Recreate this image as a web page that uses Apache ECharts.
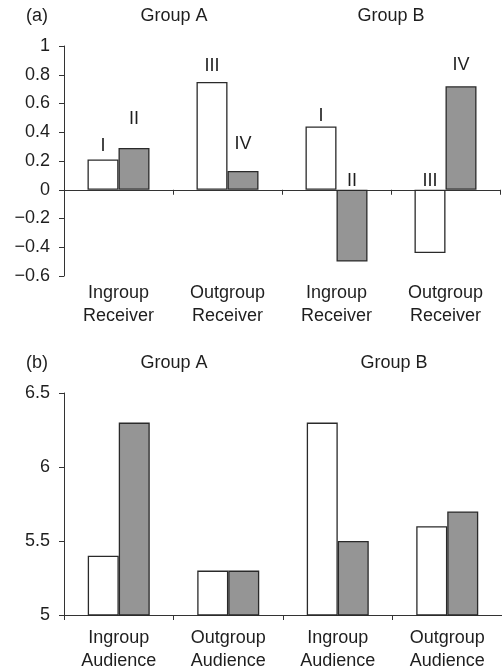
<!DOCTYPE html>
<html>
<head>
<meta charset="utf-8">
<script src="https://cdn.jsdelivr.net/npm/echarts@6/dist/echarts.min.js"></script>
<style>html,body{margin:0;padding:0;background:#fff}#c{width:502px;height:670px}</style>
</head>
<body>
<div id="c"></div>
<script>
// Panel (a)
const catsA = ['Ingroup\nReceiver', 'Outgroup\nReceiver', 'Ingroup\nReceiver', 'Outgroup\nReceiver'];
const whiteA = [0.21, 0.75, 0.44, -0.44];
const grayA = [0.29, 0.13, -0.5, 0.72];
const whiteLabelsA = ['I', 'III', 'I', 'III'];
const grayLabelsA = ['II', 'IV', 'II', 'IV'];
// Panel (b)
const catsB = ['Ingroup\nAudience', 'Outgroup\nAudience', 'Ingroup\nAudience', 'Outgroup\nAudience'];
const whiteB = [5.4, 5.3, 6.3, 5.6];
const grayB = [6.3, 5.3, 5.5, 5.7];
const groupTitles = ['Group A', 'Group B'];
const panelTags = ['(a)', '(b)'];

// label distances (style only)
const whiteDist = [5, 7, 1, 0];
const grayDist = [20, 18, 0, 12];

const FONT = '"Liberation Sans", Arial, sans-serif';
const FS = 18;
const TXT = '#1e1e1e';
const AX = '#333';

function fmtA(v) {
  const r = Math.round(v * 10) / 10;
  if (r === 0) return '0';
  return (r < 0 ? '\u2212' : '') + String(Math.abs(r));
}

function labeled(values, names, dist) {
  return values.map((v, i) => ({
    value: v,
    label: { show: true, position: 'top', distance: dist[i], formatter: names[i] }
  }));
}

const chart = echarts.init(document.getElementById('c'), null, { renderer: 'canvas' });

const axisLabelStyle = { color: TXT, fontSize: FS, fontFamily: FONT };
const barStyle = (c) => ({ color: c, borderColor: '#2a2a2a', borderWidth: 1.3 });
const tStyle = { fontSize: FS, fontWeight: 'normal', color: TXT, fontFamily: FONT, lineHeight: 20 };
function title(text, left, top, align) {
  return { text, left, top, padding: 0, textAlign: align || 'left', textStyle: tStyle };
}

chart.setOption({
  animation: false,
  backgroundColor: '#fff',
  textStyle: { fontFamily: FONT },
  title: [
    title(panelTags[0], 26, 6),
    title(groupTitles[0], 174, 6, 'center'),
    title(groupTitles[1], 391, 6, 'center'),
    title(panelTags[1], 26, 353),
    title(groupTitles[0], 174, 353, 'center'),
    title(groupTitles[1], 394, 353, 'center')
  ],
  grid: [
    { left: 64, right: 2, top: 46, height: 230, outerBoundsMode: 'none', containLabel: false },
    { left: 64, right: 0, top: 393, height: 222, outerBoundsMode: 'none', containLabel: false }
  ],
  xAxis: [
    {
      type: 'category', gridIndex: 0, data: catsA, position: 'bottom',
      axisLine: { show: false, onZero: false }, axisTick: { show: false },
      axisLabel: Object.assign({ margin: 6, lineHeight: 23 }, axisLabelStyle)
    },
    {
      type: 'category', gridIndex: 0, data: catsA, position: 'bottom',
      axisLine: { show: true, onZero: true, lineStyle: { color: AX, width: 1 } },
      axisTick: { show: true, length: 5, lineStyle: { color: AX } },
      axisLabel: { show: false }
    },
    {
      type: 'category', gridIndex: 1, data: catsB,
      axisLine: { show: true, lineStyle: { color: AX, width: 1 } },
      axisTick: { show: true, length: 5, lineStyle: { color: AX } },
      axisLabel: Object.assign({ margin: 12, lineHeight: 23 }, axisLabelStyle)
    }
  ],
  yAxis: [
    {
      type: 'value', gridIndex: 0, min: -0.6, max: 1, interval: 0.2,
      splitLine: { show: false },
      axisLine: { show: true, lineStyle: { color: AX } },
      axisTick: { show: true, length: 5, lineStyle: { color: AX } },
      axisLabel: Object.assign({ margin: 14, formatter: fmtA }, axisLabelStyle)
    },
    {
      type: 'value', gridIndex: 1, min: 5, max: 6.5, interval: 0.5,
      splitLine: { show: false },
      axisLine: { show: true, lineStyle: { color: AX } },
      axisTick: { show: true, length: 5, lineStyle: { color: AX } },
      axisLabel: Object.assign({ margin: 14 }, axisLabelStyle)
    }
  ],
  series: [
    {
      type: 'bar', xAxisIndex: 1, yAxisIndex: 0, barWidth: 31, barGap: '0%',
      itemStyle: barStyle('#ffffff'),
      label: { color: TXT, fontSize: FS, fontFamily: FONT },
      data: labeled(whiteA, whiteLabelsA, whiteDist)
    },
    {
      type: 'bar', xAxisIndex: 1, yAxisIndex: 0, barWidth: 31, barGap: '0%',
      itemStyle: barStyle('#959595'),
      label: { color: TXT, fontSize: FS, fontFamily: FONT },
      data: labeled(grayA, grayLabelsA, grayDist)
    },
    {
      type: 'bar', xAxisIndex: 2, yAxisIndex: 1, barWidth: 31, barGap: '0%',
      itemStyle: barStyle('#ffffff'),
      data: whiteB
    },
    {
      type: 'bar', xAxisIndex: 2, yAxisIndex: 1, barWidth: 31, barGap: '0%',
      itemStyle: barStyle('#959595'),
      data: grayB
    }
  ]
});
</script>
</body>
</html>
